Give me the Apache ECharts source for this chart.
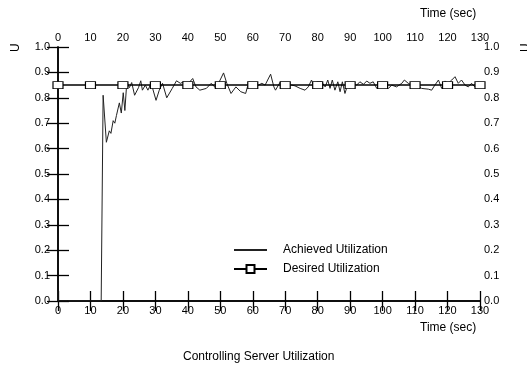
<!DOCTYPE html>
<html>
<head>
<meta charset="utf-8">
<script src="https://cdn.jsdelivr.net/npm/echarts@6/dist/echarts.min.js"></script>
<style>
  html, body { margin: 0; padding: 0; background: #fff; }
  #chart { width: 527px; height: 366px; }
</style>
</head>
<body>
<div id="chart"></div>
<script>
// time (sec) and utilization
const achievedTime = [
  0, 0, 3, 13.3, 13.9, 14.9, 15.8, 16.3, 17.0, 17.5, 18.0, 18.9, 19.5, 20.1, 20.6,
  21.2, 22.0, 22.7, 23.6, 24.8, 25.5, 26.0, 26.9, 27.7, 28.7, 30.2, 31.2, 32.2,
  33.5, 35.2, 36.5, 37.7, 38.7, 39.7, 41.5, 42.5, 43.7, 45.7, 47.2, 48.7, 51.0,
  52.0, 53.3, 54.8, 56.3, 57.8, 58.8, 60.3, 61.8, 62.8, 63.8, 65.5, 66.5, 67.0,
  68.5, 70.0, 72.0, 73.0, 74.6, 76.1, 77.1, 78.1, 79.0, 79.7, 81.2, 82.3, 83.1,
  83.8, 84.5, 85.3, 86.2, 86.9, 87.6, 88.4, 89.2, 89.9, 91.0, 92.0, 93.0, 94.1,
  95.1, 96.1, 97.1, 98.2, 99.2, 100.7, 101.8, 102.8, 104.3, 105.9, 106.7, 107.9,
  109.0, 110.5, 112.0, 114.1, 115.1, 116.1, 117.2, 118.2, 119.2, 120.2, 121.3,
  122.3, 123.3, 124.3, 125.4, 126.4, 127.4, 128.4, 129.4, 130.0
];
const achievedUtil = [
  0.04, 0, 0, 0, 0.81, 0.625, 0.67, 0.66, 0.71, 0.70, 0.73, 0.78, 0.74, 0.82, 0.75,
  0.863, 0.84, 0.86, 0.81, 0.84, 0.867, 0.83, 0.85, 0.83, 0.857, 0.79, 0.83, 0.857,
  0.80, 0.837, 0.867, 0.857, 0.863, 0.85, 0.876, 0.843, 0.83, 0.837, 0.857, 0.837, 0.898,
  0.857, 0.817, 0.843, 0.824, 0.817, 0.863, 0.85, 0.85, 0.857, 0.85, 0.893, 0.843, 0.83,
  0.863, 0.85, 0.85, 0.847, 0.837, 0.83, 0.843, 0.87, 0.837, 0.863, 0.863, 0.843, 0.87,
  0.837, 0.87, 0.83, 0.863, 0.824, 0.863, 0.817, 0.85, 0.837, 0.857, 0.85, 0.863, 0.853,
  0.866, 0.857, 0.863, 0.837, 0.857, 0.843, 0.837, 0.85, 0.843, 0.857, 0.87, 0.857,
  0.85, 0.85, 0.837, 0.834, 0.83, 0.85, 0.87, 0.837, 0.866, 0.857, 0.87,
  0.883, 0.857, 0.87, 0.85, 0.843, 0.857, 0.843, 0.863, 0.85
];
const desiredTime = [0, 10, 20, 30, 40, 50, 60, 70, 80, 90, 100, 110, 120, 130];
const desiredUtil = [0.85, 0.85, 0.85, 0.85, 0.85, 0.85, 0.85, 0.85, 0.85, 0.85, 0.85, 0.85, 0.85, 0.85];

const FONT = "Liberation Sans";

const chart = echarts.init(document.getElementById("chart"), null, { renderer: "canvas" });

const xBase = {
  type: "value",
  min: 0,
  max: 130,
  interval: 10,
  axisLine: { show: true, lineStyle: { color: "#000", width: 1.5 } },
  axisTick: { show: true, inside: true, length: 10, lineStyle: { color: "#000", width: 1.3 } },
  axisLabel: { color: "#000", fontFamily: FONT, fontSize: 11, margin: 4 },
  splitLine: { show: false },
};
const yBase = {
  type: "value",
  min: 0,
  max: 1,
  interval: 0.1,
  axisLine: { show: true, lineStyle: { color: "#000", width: 1.5 } },
  axisTick: { show: true, inside: true, length: 11, lineStyle: { color: "#000", width: 1.3 } },
  axisLabel: {
    color: "#000", fontFamily: FONT, fontSize: 11,
    formatter: (v) => v.toFixed(1),
  },
  splitLine: { show: false },
};

chart.setOption({
  backgroundColor: "#fff",
  animation: false,
  grid: { left: 58, right: 47, top: 47, bottom: 65, containLabel: false },
  xAxis: [
    Object.assign({}, xBase, { position: "bottom" }),
    Object.assign({}, xBase, { position: "top" }),
  ],
  yAxis: [
    Object.assign({}, yBase, { position: "left", axisLabel: Object.assign({}, yBase.axisLabel, { margin: 8 }) }),
    Object.assign({}, yBase, { position: "right", axisLabel: Object.assign({}, yBase.axisLabel, { margin: 4 }) }),
  ],
  legend: {
    orient: "vertical",
    left: 228,
    top: 239,
    itemWidth: 33,
    itemHeight: 10,
    itemGap: 7,
    textStyle: { color: "#000", fontFamily: FONT, fontSize: 12, padding: [0, 0, 0, 11] },
    data: [
      { name: "Achieved Utilization", itemStyle: { color: "rgba(0,0,0,0)", borderWidth: 0 } },
      { name: "Desired Utilization" },
    ],
  },
  graphic: [
    { type: "text", left: 420, top: 8, style: { text: "Time (sec)", fill: "#000", font: "12px " + FONT } },
    { type: "text", left: 420, top: 322, style: { text: "Time (sec)", fill: "#000", font: "12px " + FONT } },
    { type: "text", left: 183, top: 351, style: { text: "Controlling Server Utilization", fill: "#000", font: "12px " + FONT } },
    { type: "text", x: 10, y: 52, rotation: Math.PI / 2, style: { text: "U", fill: "#000", font: "12px " + FONT } },
    { type: "text", x: 520, y: 52, rotation: Math.PI / 2, style: { text: "U", fill: "#000", font: "12px " + FONT } },
  ],
  series: [
    {
      name: "Achieved Utilization",
      type: "line",
      xAxisIndex: 0,
      yAxisIndex: 0,
      data: achievedTime.map((t, i) => [t, achievedUtil[i]]),
      showSymbol: false,
      symbol: "none",
      lineStyle: { color: "#222", width: 1 },
      itemStyle: { color: "#222" },
      z: 2,
    },
    {
      name: "Desired Utilization",
      type: "line",
      xAxisIndex: 0,
      yAxisIndex: 0,
      data: desiredTime.map((t, i) => [t, desiredUtil[i]]),
      symbol: "rect",
      symbolSize: [10, 7],
      showSymbol: true,
      lineStyle: { color: "#000", width: 1.5 },
      itemStyle: { color: "#fff", borderColor: "#000", borderWidth: 1 },
      z: 3,
    },
  ],
});
</script>
</body>
</html>
